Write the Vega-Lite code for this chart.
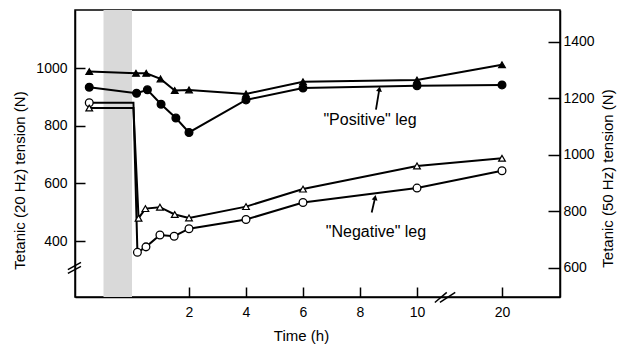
{
  "$schema": "https://vega.github.io/schema/vega-lite/v6.json",
  "width": 485,
  "height": 287,
  "autosize": "none",
  "padding": {"left": 75, "top": 10, "right": 60, "bottom": 49},
  "background": "white",
  "config": {
    "font": "Liberation Sans",
    "view": {"stroke": "black", "strokeWidth": 1.5},
    "axis": {
      "grid": false,
      "domainColor": "black",
      "domainWidth": 1.5,
      "tickColor": "black",
      "tickWidth": 1.5,
      "labelColor": "black",
      "labelFontSize": 14,
      "labelFont": "Liberation Sans",
      "titleColor": "black",
      "titleFontSize": 15,
      "titleFontWeight": "normal",
      "titleFont": "Liberation Sans",
      "format": "d"
    }
  },
  "datasets": {
    "shade": [{"t": -1, "t2": 0}],
    "hz20": [
      {"leg": "positive", "t": -1.5, "v": 934, "mk": 1},
      {"leg": "positive", "t": 0.16, "v": 913, "mk": 1},
      {"leg": "positive", "t": 0.54, "v": 925, "mk": 1},
      {"leg": "positive", "t": 1.02, "v": 875, "mk": 1},
      {"leg": "positive", "t": 1.54, "v": 827, "mk": 1},
      {"leg": "positive", "t": 2, "v": 777, "mk": 1},
      {"leg": "positive", "t": 4, "v": 890, "mk": 1},
      {"leg": "positive", "t": 6, "v": 931, "mk": 1},
      {"leg": "positive", "t": 10, "v": 939, "mk": 1},
      {"leg": "positive", "t": 20, "v": 942, "mk": 1},
      {"leg": "negative", "t": -1.5, "v": 880, "mk": 1},
      {"leg": "negative", "t": 0.05, "v": 880, "mk": 0},
      {"leg": "negative", "t": 0.19, "v": 361, "mk": 1},
      {"leg": "negative", "t": 0.49, "v": 380, "mk": 1},
      {"leg": "negative", "t": 0.98, "v": 421, "mk": 1},
      {"leg": "negative", "t": 1.48, "v": 417, "mk": 1},
      {"leg": "negative", "t": 2, "v": 443, "mk": 1},
      {"leg": "negative", "t": 4, "v": 475, "mk": 1},
      {"leg": "negative", "t": 6, "v": 534, "mk": 1},
      {"leg": "negative", "t": 10, "v": 584, "mk": 1},
      {"leg": "negative", "t": 20, "v": 644, "mk": 1}
    ],
    "hz50": [
      {"leg": "positive", "t": -1.5, "v": 1295, "mk": 1},
      {"leg": "positive", "t": 0.14, "v": 1289, "mk": 1},
      {"leg": "positive", "t": 0.5, "v": 1289, "mk": 1},
      {"leg": "positive", "t": 1.0, "v": 1269, "mk": 1},
      {"leg": "positive", "t": 1.5, "v": 1228, "mk": 1},
      {"leg": "positive", "t": 2, "v": 1230, "mk": 1},
      {"leg": "positive", "t": 4, "v": 1216, "mk": 1},
      {"leg": "positive", "t": 6, "v": 1259, "mk": 1},
      {"leg": "positive", "t": 10, "v": 1265, "mk": 1},
      {"leg": "positive", "t": 20, "v": 1319, "mk": 1},
      {"leg": "negative", "t": -1.5, "v": 1166, "mk": 1},
      {"leg": "negative", "t": 0.05, "v": 1166, "mk": 0},
      {"leg": "negative", "t": 0.23, "v": 776, "mk": 1},
      {"leg": "negative", "t": 0.47, "v": 810, "mk": 1},
      {"leg": "negative", "t": 0.98, "v": 815, "mk": 1},
      {"leg": "negative", "t": 1.5, "v": 789, "mk": 1},
      {"leg": "negative", "t": 2, "v": 777, "mk": 1},
      {"leg": "negative", "t": 4, "v": 817, "mk": 1},
      {"leg": "negative", "t": 6, "v": 879, "mk": 1},
      {"leg": "negative", "t": 10, "v": 961, "mk": 1},
      {"leg": "negative", "t": 20, "v": 988, "mk": 1}
    ],
    "arrows": [
      {"t": 8.56, "v": 856, "t2": 8.68, "v2": 928, "angle": 9},
      {"t": 8.41, "v": 499, "t2": 8.53, "v2": 551, "angle": 12}
    ],
    "labels": [
      {"t": 8.35, "v": 821, "label": "\"Positive\" leg"},
      {"t": 8.56, "v": 433, "label": "\"Negative\" leg"}
    ],
    "breaks": [
      {"t": 12.1, "v": 187, "t2": 13.5, "v2": 222},
      {"t": 12.7, "v": 187, "t2": 14.5, "v2": 222},
      {"t": -2.25, "v": 288, "t2": -1.79, "v2": 312},
      {"t": -2.25, "v": 301, "t2": -1.79, "v2": 326}
    ]
  },
  "layer": [
    {
      "data": {"name": "shade"},
      "mark": {"type": "rect", "fill": "#d9d9d9"},
      "encoding": {
        "x": {
          "field": "t", "type": "quantitative", "title": "Time (h)",
          "scale": {"domain": [-2, 10, 20, 26.8], "range": [0, 342, 427, 485], "nice": false, "zero": false},
          "axis": {"values": [2, 4, 6, 8, 10, 20], "tickSize": -10, "labelPadding": 18, "titleX": 226, "titleY": 38, "titleBaseline": "middle"}
        },
        "x2": {"field": "t2"}
      }
    },
    {
      "layer": [
        {
          "data": {"name": "hz20"},
          "mark": {"type": "line", "color": "black", "strokeWidth": 2},
          "encoding": {
            "x": {"field": "t", "type": "quantitative", "title": "Time (h)", "scale": {"domain": [-2, 10, 20, 26.8], "range": [0, 342, 427, 485], "nice": false, "zero": false}},
            "y": {
              "field": "v", "type": "quantitative", "title": "Tetanic (20 Hz) tension (N)",
              "scale": {"domain": [206, 1202], "nice": false, "zero": false},
              "axis": {"orient": "left", "values": [400, 600, 800, 1000], "tickSize": -10, "labelPadding": 18, "titleX": -56, "titleY": 170, "titleAngle": -90, "titleBaseline": "middle", "titleAlign": "center"}
            },
            "detail": {"field": "leg"}
          }
        },
        {
          "data": {"name": "hz20"},
          "transform": [{"filter": "datum.mk == 1"}],
          "mark": {"type": "point", "shape": "circle", "size": 60, "stroke": "black", "strokeWidth": 1.3, "opacity": 1},
          "encoding": {
            "x": {"field": "t", "type": "quantitative", "title": "Time (h)", "scale": {"domain": [-2, 10, 20, 26.8], "range": [0, 342, 427, 485], "nice": false, "zero": false}},
            "y": {"field": "v", "type": "quantitative", "title": "Tetanic (20 Hz) tension (N)", "scale": {"domain": [206, 1202], "nice": false, "zero": false}},
            "fill": {"field": "leg", "type": "nominal", "scale": {"domain": ["positive", "negative"], "range": ["black", "white"]}, "legend": null}
          }
        },
        {
          "data": {"name": "arrows"},
          "mark": {"type": "rule", "color": "black", "strokeWidth": 1.8},
          "encoding": {
            "x": {"field": "t", "type": "quantitative", "title": "Time (h)", "scale": {"domain": [-2, 10, 20, 26.8], "range": [0, 342, 427, 485], "nice": false, "zero": false}},
            "y": {"field": "v", "type": "quantitative", "title": "Tetanic (20 Hz) tension (N)", "scale": {"domain": [206, 1202], "nice": false, "zero": false}},
            "x2": {"field": "t2"},
            "y2": {"field": "v2"}
          }
        },
        {
          "data": {"name": "arrows"},
          "mark": {"type": "point", "shape": "triangle-up", "size": 35, "filled": true, "color": "black", "opacity": 1},
          "encoding": {
            "x": {"field": "t2", "type": "quantitative", "title": "Time (h)", "scale": {"domain": [-2, 10, 20, 26.8], "range": [0, 342, 427, 485], "nice": false, "zero": false}},
            "y": {"field": "v2", "type": "quantitative", "title": "Tetanic (20 Hz) tension (N)", "scale": {"domain": [206, 1202], "nice": false, "zero": false}},
            "angle": {"field": "angle", "type": "quantitative", "scale": null}
          }
        },
        {
          "data": {"name": "labels"},
          "mark": {"type": "text", "fontSize": 16, "font": "Liberation Sans", "color": "black", "align": "center", "baseline": "middle"},
          "encoding": {
            "x": {"field": "t", "type": "quantitative", "title": "Time (h)", "scale": {"domain": [-2, 10, 20, 26.8], "range": [0, 342, 427, 485], "nice": false, "zero": false}},
            "y": {"field": "v", "type": "quantitative", "title": "Tetanic (20 Hz) tension (N)", "scale": {"domain": [206, 1202], "nice": false, "zero": false}},
            "text": {"field": "label"}
          }
        },
        {
          "data": {"name": "breaks"},
          "mark": {"type": "rule", "color": "black", "strokeWidth": 1.5},
          "encoding": {
            "x": {"field": "t", "type": "quantitative", "title": "Time (h)", "scale": {"domain": [-2, 10, 20, 26.8], "range": [0, 342, 427, 485], "nice": false, "zero": false}},
            "y": {"field": "v", "type": "quantitative", "title": "Tetanic (20 Hz) tension (N)", "scale": {"domain": [206, 1202], "nice": false, "zero": false}},
            "x2": {"field": "t2"},
            "y2": {"field": "v2"}
          }
        }
      ]
    },
    {
      "layer": [
        {
          "data": {"name": "hz50"},
          "mark": {"type": "line", "color": "black", "strokeWidth": 2},
          "encoding": {
            "x": {"field": "t", "type": "quantitative", "title": "Time (h)", "scale": {"domain": [-2, 10, 20, 26.8], "range": [0, 342, 427, 485], "nice": false, "zero": false}},
            "y": {
              "field": "v", "type": "quantitative", "title": "Tetanic (50 Hz) tension (N)",
              "scale": {"domain": [497, 1513], "nice": false, "zero": false},
              "axis": {"orient": "right", "values": [600, 800, 1000, 1200, 1400], "tickSize": -12, "labelPadding": 15, "titleX": 47, "titleY": 168, "titleAngle": -90, "titleBaseline": "middle", "titleAlign": "center"}
            },
            "detail": {"field": "leg"}
          }
        },
        {
          "data": {"name": "hz50"},
          "transform": [{"filter": "datum.mk == 1"}],
          "mark": {"type": "point", "shape": "triangle-up", "size": 45, "stroke": "black", "strokeWidth": 1.2, "opacity": 1},
          "encoding": {
            "x": {"field": "t", "type": "quantitative", "title": "Time (h)", "scale": {"domain": [-2, 10, 20, 26.8], "range": [0, 342, 427, 485], "nice": false, "zero": false}},
            "y": {"field": "v", "type": "quantitative", "title": "Tetanic (50 Hz) tension (N)", "scale": {"domain": [497, 1513], "nice": false, "zero": false}},
            "fill": {"field": "leg", "type": "nominal", "scale": {"domain": ["positive", "negative"], "range": ["black", "white"]}, "legend": null}
          }
        }
      ]
    }
  ],
  "resolve": {"scale": {"y": "independent"}}
}
